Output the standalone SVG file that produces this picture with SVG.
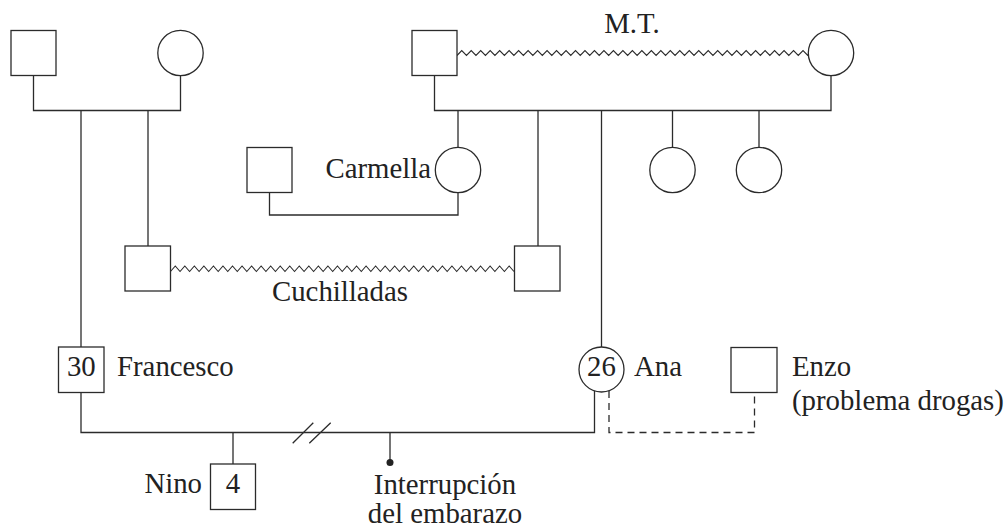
<svg xmlns="http://www.w3.org/2000/svg" width="1008" height="531" viewBox="0 0 1008 531">
<style>
.sh{fill:#fff;stroke:#2b2b2b;stroke-width:1.3}
.ln{fill:none;stroke:#2b2b2b;stroke-width:1.3}
.dash{fill:none;stroke:#2b2b2b;stroke-width:1.3;stroke-dasharray:7 5}
.zz{fill:none;stroke:#2b2b2b;stroke-width:1.1;stroke-linejoin:miter}
text{font-family:"Liberation Serif","Times New Roman",serif;font-size:28.8px;fill:#222}
.m{text-anchor:middle}
.e{text-anchor:end}
</style>
<rect width="1008" height="531" fill="#fff"/>
<g id="connectors">
<path class="ln" d="M33.5,75.5 V110.5 H180.5 V75.7"/>
<path class="ln" d="M81,110.5 V347"/>
<path class="ln" d="M148,110.5 V246"/>
<path class="ln" d="M434.5,75.5 V110.5 H831 V75.7"/>
<path class="ln" d="M458,110.5 V147.3"/>
<path class="ln" d="M538,110.5 V246"/>
<path class="ln" d="M601.5,110.5 V347"/>
<path class="ln" d="M672.5,110.5 V147.3"/>
<path class="ln" d="M759,110.5 V147.3"/>
<path class="ln" d="M269.5,192.5 V215 H458 V192.7"/>
<path class="zz" d="M457,55.5 l4.74-5 4.74 5 l4.74-5 4.74 5 l4.74-5 4.74 5 l4.74-5 4.74 5 l4.74-5 4.74 5 l4.74-5 4.74 5 l4.74-5 4.74 5 l4.74-5 4.74 5 l4.74-5 4.74 5 l4.74-5 4.74 5 l4.74-5 4.74 5 l4.74-5 4.74 5 l4.74-5 4.74 5 l4.74-5 4.74 5 l4.74-5 4.74 5 l4.74-5 4.74 5 l4.74-5 4.74 5 l4.74-5 4.74 5 l4.74-5 4.74 5 l4.74-5 4.74 5 l4.74-5 4.74 5 l4.74-5 4.74 5 l4.74-5 4.74 5 l4.74-5 4.74 5 l4.74-5 4.74 5 l4.74-5 4.74 5 l4.74-5 4.74 5 l4.74-5 4.74 5 l4.74-5 4.74 5 l4.74-5 4.74 5 l4.74-5 4.74 5 l4.74-5 4.74 5 l4.74-5 4.74 5 l4.74-5 4.74 5 l4.74-5 4.74 5 l4.74-5 4.74 5 l4.74-5 4.74 5 l4.74-5 4.74 5"/>
<path class="zz" d="M170.5,271.5 l4.77-5.5 4.77 5.5 l4.77-5.5 4.77 5.5 l4.77-5.5 4.77 5.5 l4.77-5.5 4.77 5.5 l4.77-5.5 4.77 5.5 l4.77-5.5 4.77 5.5 l4.77-5.5 4.77 5.5 l4.77-5.5 4.77 5.5 l4.77-5.5 4.77 5.5 l4.77-5.5 4.77 5.5 l4.77-5.5 4.77 5.5 l4.77-5.5 4.77 5.5 l4.77-5.5 4.77 5.5 l4.77-5.5 4.77 5.5 l4.77-5.5 4.77 5.5 l4.77-5.5 4.77 5.5 l4.77-5.5 4.77 5.5 l4.77-5.5 4.77 5.5 l4.77-5.5 4.77 5.5 l4.77-5.5 4.77 5.5 l4.77-5.5 4.77 5.5 l4.77-5.5 4.77 5.5 l4.77-5.5 4.77 5.5 l4.77-5.5 4.77 5.5 l4.77-5.5 4.77 5.5 l4.77-5.5 4.77 5.5 l4.77-5.5 4.77 5.5 l4.77-5.5 4.77 5.5 l4.77-5.5 4.77 5.5 l4.77-5.5 4.77 5.5 l4.77-5.5 4.77 5.5 l4.77-5.5 4.77 5.5 l4.77-5.5 4.77 5.5 l4.77-5.5 4.77 5.5 l4.77-5.5 4.77 5.5 l4.77-5.5 4.77 5.5"/>
<path class="ln" d="M81,392.5 V432.5 H594.5 V390.5"/>
<path class="ln" d="M233,432.5 V464"/>
<path class="ln" d="M292.7,443.3 L313.3,422.7 M309.3,443.3 L330.7,422.7"/>
<path class="ln" d="M390,432.5 V462"/>
<circle cx="390" cy="462.5" r="3.5" fill="#222"/>
<path class="dash" d="M609,391 V432.5 H754.5 V392.5"/>
</g>
<g id="gf_left"><rect class="sh" x="11" y="30.5" width="45" height="45"/></g>
<g id="gm_left"><circle class="sh" cx="180.5" cy="53" r="22.7"/></g>
<g id="gf_right"><rect class="sh" x="412" y="30.5" width="45" height="45"/></g>
<g id="gm_right"><circle class="sh" cx="831" cy="53" r="22.7"/><text class="m" x="632" y="33">M.T.</text></g>
<g id="carmella_husband"><rect class="sh" x="247" y="147.5" width="45" height="45"/></g>
<g id="carmella"><circle class="sh" cx="458" cy="170" r="22.7"/><text class="e" x="431" y="178">Carmella</text></g>
<g id="sister1"><circle class="sh" cx="672.5" cy="170" r="22.7"/></g>
<g id="sister2"><circle class="sh" cx="759" cy="170" r="22.7"/></g>
<g id="brother_left"><rect class="sh" x="125" y="246" width="45.5" height="45"/></g>
<g id="brother_right"><rect class="sh" x="514.5" y="246" width="45.5" height="45"/><text x="272" y="301">Cuchilladas</text></g>
<g id="francesco"><rect class="sh" x="58.5" y="347" width="45.5" height="45.5"/><text class="m" x="81.3" y="376">30</text><text x="117" y="376">Francesco</text></g>
<g id="ana"><circle class="sh" cx="601.5" cy="369.5" r="22.5"/><text class="m" x="601.5" y="376">26</text><text x="634" y="376">Ana</text></g>
<g id="enzo"><rect class="sh" x="731" y="347.5" width="46" height="45"/><text x="792" y="376">Enzo</text><text x="792" y="410">(problema drogas)</text></g>
<g id="nino"><rect class="sh" x="210.5" y="464" width="45" height="45.5"/><text class="m" x="233" y="493">4</text><text class="e" x="202" y="493">Nino</text></g>
<g id="interrupcion"><text class="m" x="445" y="494">Interrupción</text><text class="m" x="445" y="523">del embarazo</text></g>
</svg>
